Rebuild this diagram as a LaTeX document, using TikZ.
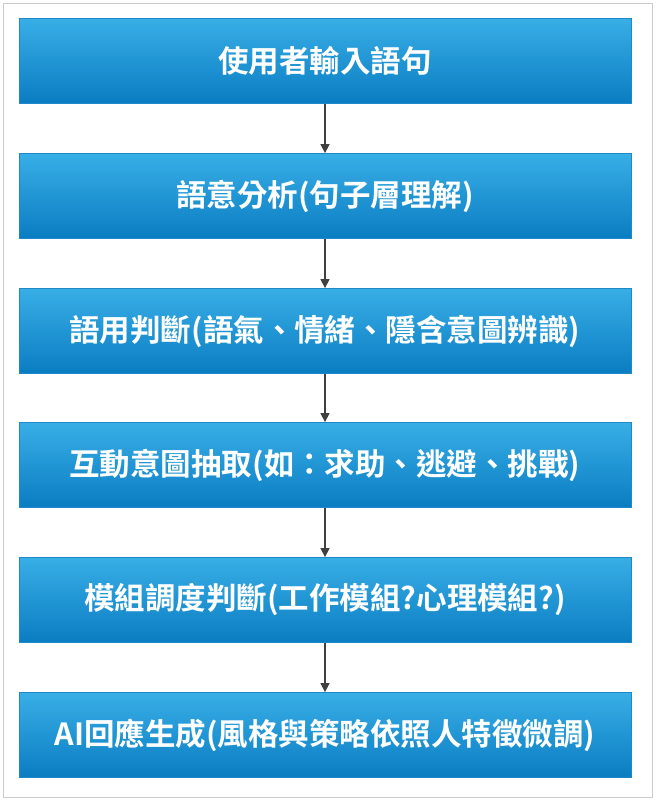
\documentclass[tikz,border=0pt]{standalone}
\usepackage{fontspec}
\newfontfamily\cjk{Noto Sans CJK TC}[BoldFont={* Bold}]
\usetikzlibrary{arrows.meta}
\definecolor{topb}{HTML}{38AEE6}
\definecolor{botb}{HTML}{0A7DC2}
\definecolor{edgeb}{HTML}{1E88C8}
\tikzset{
 stepbox/.style={draw=edgeb,line width=0.8pt,top color=topb,bottom color=botb,minimum width=612pt,minimum height=85pt,inner sep=0pt,text=white,font=\cjk\bfseries\fontsize{30.5}{36}\selectfont},
 conn/.style={draw=black!75,line width=1.3pt,-{Triangle[length=9pt,width=9pt]}}
}
\begin{document}
\begin{tikzpicture}[x=1pt,y=-1pt]
\useasboundingbox (0,0) rectangle (656,801);
\draw[black!20,line width=1pt] (3,3) rectangle (652,797);
\node[stepbox] (a) at (325,61) {使用者輸入語句};
\node[stepbox] (b) at (325,196) {語意分析(句子層理解)};
\node[stepbox] (c) at (325,331) {語用判斷(語氣、情緒、隱含意圖辨識)};
\node[stepbox] (d) at (325,465) {互動意圖抽取(如：求助、逃避、挑戰)};
\node[stepbox] (e) at (325,600) {模組調度判斷(工作模組?心理模組?)};
\node[stepbox] (f) at (325,735) {AI回應生成(風格與策略依照人特徵微調)};
\foreach \u/\v in {a/b,b/c,c/d,d/e,e/f} \draw[conn] (\u.south) -- (\v.north);
\end{tikzpicture}
\end{document}
